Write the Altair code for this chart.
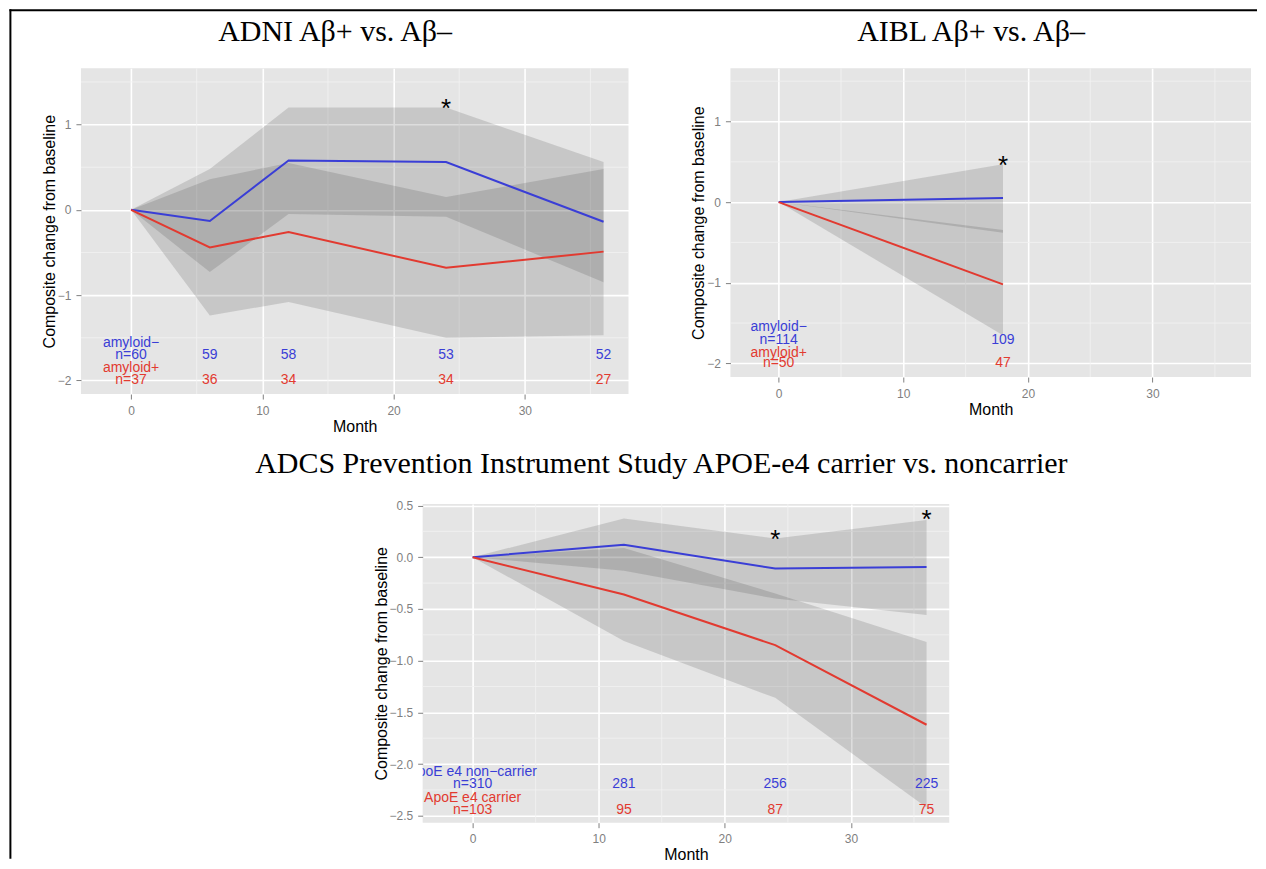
import altair as alt
import pandas as pd

SANS = "Liberation Sans"
SERIF = "Liberation Serif"
BLUE = "#3A3ED6"
RED = "#E23A30"
BG = "#E5E5E5"
MINOR = "#F2F2F2"
GREY = "#7F7F7F"

# ---------------- ADNI ----------------
adni_month = [0, 6, 12, 24, 36]
adni_neg_mean = [0.0, -0.13, 0.58, 0.56, -0.14]
adni_neg_lo = [0.0, -0.73, -0.05, -0.08, -0.85]
adni_neg_hi = [0.0, 0.48, 1.20, 1.20, 0.56]
adni_pos_mean = [0.0, -0.44, -0.26, -0.68, -0.49]
adni_pos_lo = [0.0, -1.24, -1.08, -1.50, -1.47]
adni_pos_hi = [0.0, 0.36, 0.55, 0.15, 0.48]
adni_neg_n = ["n=60", "59", "58", "53", "52"]
adni_pos_n = ["n=37", "36", "34", "34", "27"]
adni_names = ["amyloid\u2212", "amyloid+"]
adni_label_y = [-1.56, -1.70, -1.86, -2.00]  # name-, n-, name+, n+
adni_star_month = [24]
adni_star_value = [1.25]

# ---------------- AIBL ----------------
aibl_month = [0, 18]
aibl_neg_mean = [0.0, 0.05]
aibl_neg_lo = [0.0, -0.38]
aibl_neg_hi = [0.0, 0.47]
aibl_pos_mean = [0.0, -1.02]
aibl_pos_lo = [0.0, -1.65]
aibl_pos_hi = [0.0, -0.345]
aibl_neg_n = ["n=114", "109"]
aibl_pos_n = ["n=50", "47"]
aibl_names = ["amyloid\u2212", "amyloid+"]
aibl_label_y = [-1.55, -1.71, -1.87, -2.00]
aibl_star_month = [18]
aibl_star_value = [0.52]

# ---------------- ADCS PIS ----------------
pis_month = [0, 12, 24, 36]
pis_neg_mean = [0.0, 0.12, -0.11, -0.095]
pis_neg_lo = [0.0, -0.13, -0.40, -0.56]
pis_neg_hi = [0.0, 0.375, 0.18, 0.36]
pis_pos_mean = [0.0, -0.36, -0.85, -1.62]
pis_pos_lo = [0.0, -0.81, -1.36, -2.42]
pis_pos_hi = [0.0, 0.09, -0.35, -0.82]
pis_neg_n = ["n=310", "281", "256", "225"]
pis_pos_n = ["n=103", "95", "87", "75"]
pis_names = ["ApoE e4 non\u2212carrier", "ApoE e4 carrier"]
pis_label_y = [-2.077, -2.19, -2.325, -2.44]
pis_star_month = [24, 36]
pis_star_value = [0.22, 0.415]

x_ticks = [0, 10, 20, 30]
x_minor = [5, 15, 25, 35]
y_ticks_12 = [1, 0, -1, -2]
y_minor_12 = [1.5, 0.5, -0.5, -1.5]
y_ticks_3 = [0.5, 0.0, -0.5, -1.0, -1.5, -2.0, -2.5]
y_minor_3 = [0.25, -0.25, -0.75, -1.25, -1.75, -2.25]

YTITLE = "Composite change from baseline"


def panel(title, months, neg, pos, n_neg, n_pos, names, label_y, star_m, star_v,
          xdom, ydom, yticks, yminor, yfmt, w, h):
    rows = []
    for g, (mean, lo, hi) in (("neg", neg), ("pos", pos)):
        for m, a, b, c in zip(months, mean, lo, hi):
            rows.append({"month": m, "group": g, "mean": a, "lo": b, "hi": c})
    df = pd.DataFrame(rows)

    nrows = []
    for g, labs, yv in (("neg", n_neg, label_y[1]), ("pos", n_pos, label_y[3])):
        for m, lab in zip(months, labs):
            nrows.append({"month": m, "group": g, "label": lab, "ly": yv})
    ndf = pd.DataFrame(nrows)
    name_df = pd.DataFrame({"month": [0, 0], "group": ["neg", "pos"],
                            "label": names, "ly": [label_y[0], label_y[2]]})
    star_df = pd.DataFrame({"month": star_m, "sv": star_v})

    xs = alt.Scale(domain=xdom, nice=False, zero=False)
    ys = alt.Scale(domain=ydom, nice=False, zero=False)
    x_axis = alt.Axis(values=x_ticks, title="Month", grid=True, gridColor="white",
                      gridWidth=1.6, domain=False, tickColor=GREY, tickSize=5,
                      tickWidth=1, labelColor=GREY, labelFont=SANS, labelFontSize=12,
                      labelPadding=6, titleFont=SANS, titleFontSize=16,
                      titleFontWeight="normal", titleColor="black", titlePadding=2)
    y_axis = alt.Axis(values=yticks, format=yfmt, title=YTITLE, grid=True,
                      gridColor="white", gridWidth=1.6, domain=False, tickColor=GREY,
                      tickSize=5, tickWidth=1, labelColor=GREY, labelFont=SANS,
                      labelFontSize=12, labelPadding=5, titleFont=SANS,
                      titleFontSize=16, titleFontWeight="normal", titleColor="black",
                      titlePadding=0)

    def X(f):
        return alt.X(f, scale=xs, axis=x_axis, title="Month")

    def Y(f):
        return alt.Y(f, scale=ys, axis=y_axis, title=YTITLE)

    color = alt.Color("group:N", scale=alt.Scale(domain=["neg", "pos"], range=[BLUE, RED]),
                      legend=None)

    minor_x = alt.Chart(pd.DataFrame({"month": x_minor})).mark_rule(
        color=MINOR, strokeWidth=0.8).encode(x=X("month:Q"))
    minor_y = alt.Chart(pd.DataFrame({"v": yminor})).mark_rule(
        color=MINOR, strokeWidth=0.8).encode(y=Y("v:Q"))
    ribbons = alt.Chart(df).mark_area(fill="#333333", opacity=0.17).encode(
        x=X("month:Q"), y=Y("lo:Q"), y2="hi:Q", detail="group:N")
    lines = alt.Chart(df).mark_line(strokeWidth=2).encode(
        x=X("month:Q"), y=Y("mean:Q"), color=color, detail="group:N")
    ntext = alt.Chart(ndf).mark_text(font=SANS, fontSize=14, clip=True).encode(
        x=X("month:Q"), y=Y("ly:Q"), text="label:N", color=color)
    nametext = alt.Chart(name_df).mark_text(font=SANS, fontSize=14, clip=True).encode(
        x=X("month:Q"), y=Y("ly:Q"), text="label:N", color=color)
    stars = alt.Chart(star_df).mark_text(text="*", font=SANS, fontSize=26, color="black",
                                         baseline="alphabetic", dy=14).encode(
        x=X("month:Q"), y=Y("sv:Q"))

    return alt.layer(minor_x, minor_y, ribbons, lines, ntext, nametext, stars).properties(
        width=w, height=h,
        title=alt.TitleParams(text=title, font=SERIF, fontSize=30, fontWeight="normal",
                              color="black", anchor="middle", frame="bounds",
                              baseline="alphabetic", offset=-3),
        view=alt.ViewBackground(fill=BG, strokeWidth=0))


p1 = panel("ADNI A\u03b2+ vs. A\u03b2\u2013", adni_month,
           (adni_neg_mean, adni_neg_lo, adni_neg_hi),
           (adni_pos_mean, adni_pos_lo, adni_pos_hi),
           adni_neg_n, adni_pos_n, adni_names, adni_label_y,
           adni_star_month, adni_star_value,
           [-3.82, 37.9], [-2.16, 1.66], y_ticks_12, y_minor_12, "d", 548, 326)

p2 = panel("AIBL A\u03b2+ vs. A\u03b2\u2013", aibl_month,
           (aibl_neg_mean, aibl_neg_lo, aibl_neg_hi),
           (aibl_pos_mean, aibl_pos_lo, aibl_pos_hi),
           aibl_neg_n, aibl_pos_n, aibl_names, aibl_label_y,
           aibl_star_month, aibl_star_value,
           [-3.87, 37.9], [-2.17, 1.66], y_ticks_12, y_minor_12, "d", 521, 309)

p3 = panel("ADCS Prevention Instrument Study APOE-e4 carrier vs. noncarrier", pis_month,
           (pis_neg_mean, pis_neg_lo, pis_neg_hi),
           (pis_pos_mean, pis_pos_lo, pis_pos_hi),
           pis_neg_n, pis_pos_n, pis_names, pis_label_y,
           pis_star_month, pis_star_value,
           [-3.96, 37.8], [-2.567, 0.515], y_ticks_3, y_minor_3, ".1f", 527, 319)

# spacer carrying the page frame lines (left and top border)
dummy = pd.DataFrame({"k": [0]})
frame_left = alt.Chart(dummy).mark_rule(color="black", strokeWidth=2).encode(
    x=alt.value(-70.6), y=alt.value(-495), y2=alt.value(355))
frame_top = alt.Chart(dummy).mark_rule(color="black", strokeWidth=2).encode(
    x=alt.value(-71.6), x2=alt.value(1177), y=alt.value(-494))
spacer = alt.layer(frame_left, frame_top).properties(width=342, height=319)

row1 = alt.hconcat(p1, p2, spacing=102, bounds="flush")
row2 = alt.hconcat(spacer, p3, spacing=0, bounds="flush")
chart = alt.vconcat(row1, row2, spacing=436, bounds="flush").properties(
    padding=0, background="white"
).configure_view(strokeWidth=0)

chart.save("out.html", embed_options={"renderer": "svg", "actions": False})
